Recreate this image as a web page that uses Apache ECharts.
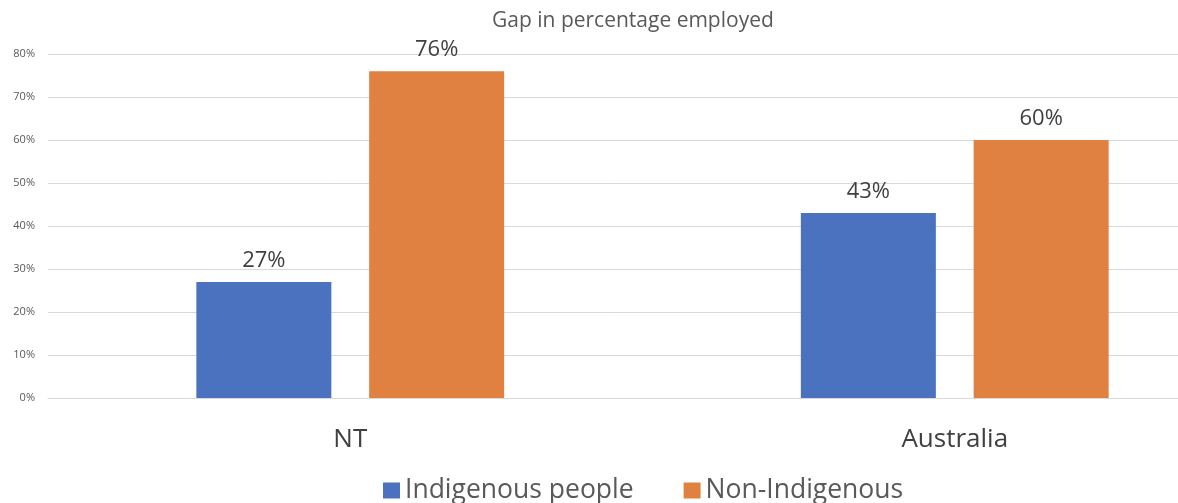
<!DOCTYPE html>
<html>
<head>
<meta charset="utf-8">
<script src="https://cdn.jsdelivr.net/npm/echarts@6/dist/echarts.min.js"></script>
<style>
  html, body { margin: 0; padding: 0; background: #ffffff; }
  #chart { width: 1178px; height: 503px; }
</style>
</head>
<body>
<div id="chart"></div>
<script>
// Employment rates (percent of people employed)
const categories = ['NT', 'Australia'];
const indigenous = [27, 43];
const nonIndigenous = [76, 60];
const seriesNames = ['Indigenous people', 'Non-Indigenous'];
const chartTitle = 'Gap in percentage employed';

const FONT = '"Open Sans", "Noto Sans", sans-serif';
const textGrey = '#595959';
const labelGrey = '#404040';

const chart = echarts.init(document.getElementById('chart'), null, { renderer: 'canvas' });

const barLabel = {
  show: true,
  position: 'top',
  distance: 10,
  formatter: '{c}%',
  color: labelGrey,
  fontFamily: FONT,
  fontSize: 22
};

chart.setOption({
  animation: false,
  backgroundColor: '#ffffff',
  title: {
    text: chartTitle,
    left: 487,
    top: 6,
    textStyle: { color: textGrey, fontFamily: FONT, fontSize: 21, fontWeight: 'normal' }
  },
  legend: {
    data: seriesNames,
    left: 378,
    top: 472,
    itemWidth: 17,
    itemHeight: 16,
    itemGap: 50,
    icon: 'rect',
    textStyle: { color: textGrey, fontFamily: FONT, fontSize: 26.5 }
  },
  // plot area runs past the right edge of the canvas
  grid: { left: 48, width: 1209, top: 54, bottom: 105, containLabel: false, outerBoundsMode: 'none' },
  xAxis: {
    type: 'category',
    data: categories,
    axisLine: { show: true, lineStyle: { color: '#d9d9d9', width: 1 } },
    axisTick: { show: false },
    axisLabel: { color: labelGrey, fontFamily: FONT, fontSize: 26, margin: 29 }
  },
  yAxis: {
    type: 'value',
    min: 0,
    max: 80,
    interval: 10,
    axisLine: { show: false },
    axisTick: { show: false },
    axisLabel: { formatter: '{value}%', color: textGrey, fontFamily: FONT, fontSize: 11, margin: 13 },
    splitLine: { lineStyle: { color: '#d9d9d9', width: 1 } }
  },
  series: [
    {
      name: seriesNames[0],
      type: 'bar',
      data: indigenous,
      barWidth: 135,
      barGap: '28%',
      itemStyle: { color: '#4A72BF' },
      label: barLabel
    },
    {
      name: seriesNames[1],
      type: 'bar',
      data: nonIndigenous,
      barWidth: 135,
      barGap: '28%',
      itemStyle: { color: '#E08142' },
      label: barLabel
    }
  ]
});
</script>
</body>
</html>
